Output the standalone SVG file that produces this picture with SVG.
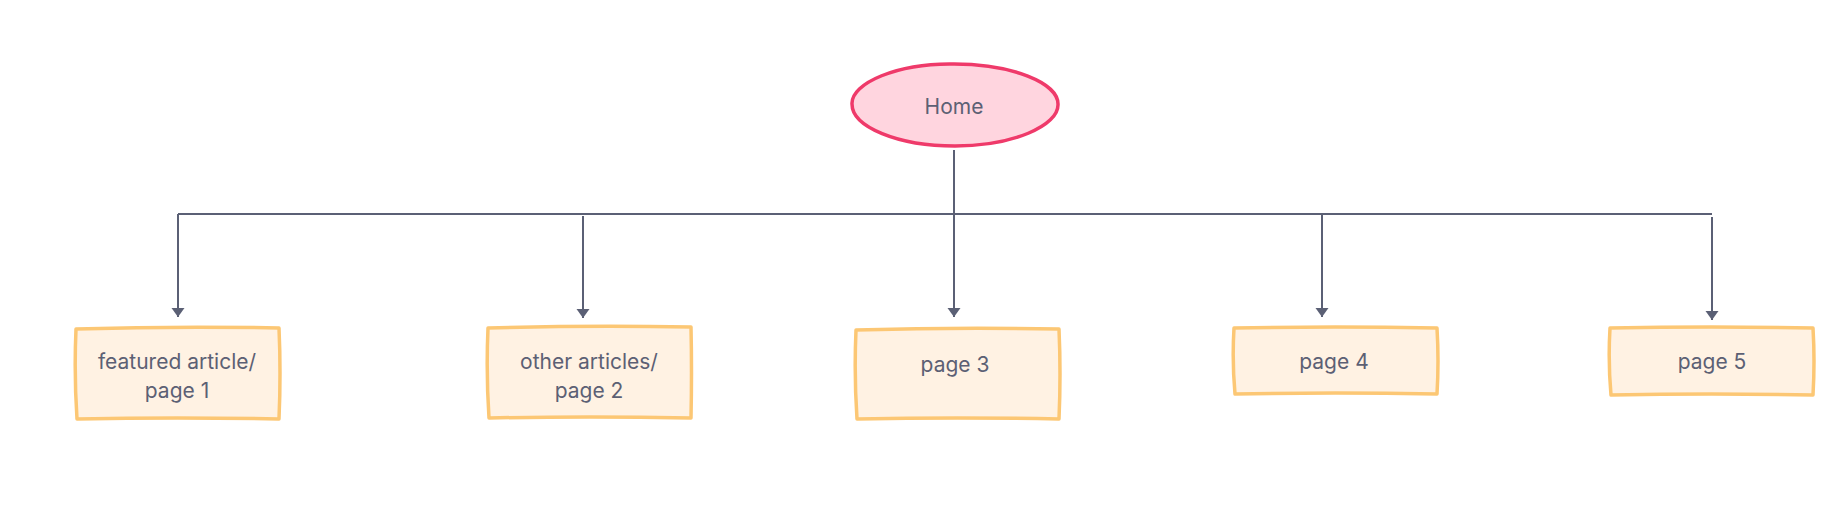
<svg xmlns="http://www.w3.org/2000/svg" width="1827" height="522" viewBox="0 0 1827 522">
<style>
.lbl{font-family:Inter,"Liberation Sans",sans-serif;font-size:21px;fill:#5c6074;text-anchor:middle}
.box{fill:#fff2e3;stroke:#fcc774;stroke-width:3.5;stroke-linejoin:round}
.conn{fill:none;stroke:#5b6075;stroke-width:2}
</style>
<defs>
<marker id="arr" markerUnits="userSpaceOnUse" markerWidth="12" markerHeight="14" refX="9" refY="0" orient="auto" overflow="visible">
<path d="M0,-6.5 L9,0 L0,6.5 Z" fill="#5b6075"/>
</marker>
</defs>
<rect width="1827" height="522" fill="#ffffff"/>
<g id="connectors">
<path class="conn" d="M954,150 V317" marker-end="url(#arr)"/>
<path class="conn" d="M178,214 H1712"/>
<path class="conn" d="M178,214 V317" marker-end="url(#arr)"/>
<path class="conn" d="M583,216 V318" marker-end="url(#arr)"/>
<path class="conn" d="M1322,214 V317" marker-end="url(#arr)"/>
<path class="conn" d="M1712,217 V320" marker-end="url(#arr)"/>
</g>
<g id="home">
<path d="M954,64 C1012,64 1058,83 1058,104 C1059,126 1012,146 955,146 C898,146 852,127 852,104 C851,83 898,63 954,64 Z" fill="#ffd5df" stroke="#ef3a6a" stroke-width="3.5"/>
<text class="lbl" x="954" y="114">Home</text>
</g>
<g id="page1">
<path class="box" d="M76,329 Q177,326 279,328 Q281,373 279,419 Q177,417 77,419 Q74,374 76,329 Z"/>
<text class="lbl" x="177" y="369">featured article/</text>
<text class="lbl" x="177" y="398">page 1</text>
</g>
<g id="page2">
<path class="box" d="M488,328 Q589,325 691,327 Q692,372 691,418 Q589,416 489,418 Q486,373 488,328 Z"/>
<text class="lbl" x="589" y="369">other articles/</text>
<text class="lbl" x="589" y="398">page 2</text>
</g>
<g id="page3">
<path class="box" d="M856,330 Q957,327 1059,329 Q1061,374 1059,419 Q957,417 857,419 Q854,375 856,330 Z"/>
<text class="lbl" x="955" y="372">page 3</text>
</g>
<g id="page4">
<path class="box" d="M1234,328 Q1335,326 1437,328 Q1439,361 1437,394 Q1335,392 1235,394 Q1232,361 1234,328 Z"/>
<text class="lbl" x="1334" y="369">page 4</text>
</g>
<g id="page5">
<path class="box" d="M1610,328 Q1711,326 1813,328 Q1815,361 1813,395 Q1711,393 1611,395 Q1608,362 1610,328 Z"/>
<text class="lbl" x="1712" y="369">page 5</text>
</g>
</svg>
